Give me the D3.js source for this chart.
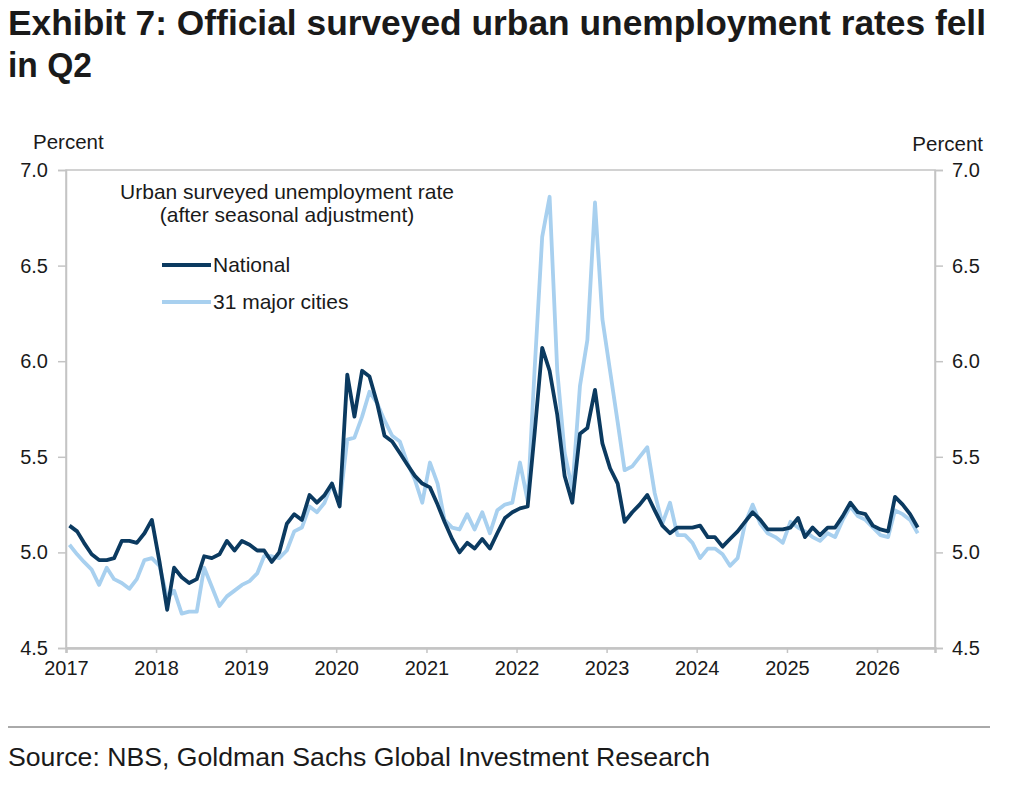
<!DOCTYPE html>
<html>
<head>
<meta charset="utf-8">
<script src="https://cdn.jsdelivr.net/npm/d3@7"></script>
<style>
  body { margin: 0; background: #fff; }
  text { font-family: "Liberation Sans", Arial, sans-serif; fill: #1a1a1a; }
</style>
</head>
<body>
<script>
// monthly data, Jan 2017 .. Jun 2026
var years = [2017, 2018, 2019, 2020, 2021, 2022, 2023, 2024, 2025, 2026];
var yTicks = [4.5, 5.0, 5.5, 6.0, 6.5, 7.0];

var national = [
  5.14, 5.11, 5.05, 4.99, 4.96, 4.96, 4.97, 5.06, 5.06, 5.05, 5.10, 5.17,
  4.95, 4.70, 4.92, 4.87, 4.84, 4.86, 4.98, 4.97, 4.99, 5.06, 5.01, 5.06,
  5.04, 5.01, 5.01, 4.95, 5.00, 5.15, 5.20, 5.17, 5.30, 5.26, 5.30, 5.36,
  5.24, 5.93, 5.71, 5.95, 5.92, 5.78, 5.61, 5.58, 5.52, 5.46, 5.40, 5.36,
  5.34, 5.25, 5.16, 5.07, 5.00, 5.05, 5.02, 5.07, 5.02, 5.10, 5.18, 5.21,
  5.23, 5.24, 5.62, 6.07, 5.95, 5.72, 5.40, 5.26, 5.62, 5.65, 5.85, 5.57,
  5.44, 5.36, 5.16, 5.21, 5.25, 5.30, 5.22, 5.14, 5.10, 5.13, 5.13, 5.13,
  5.14, 5.08, 5.08, 5.03, 5.07, 5.11, 5.16, 5.21, 5.17, 5.12, 5.12, 5.12,
  5.13, 5.18, 5.08, 5.13, 5.09, 5.13, 5.13, 5.19, 5.26, 5.21, 5.20, 5.14,
  5.12, 5.11, 5.29, 5.25, 5.20, 5.13
];

var cities = [
  5.04, 4.99, 4.95, 4.91, 4.83, 4.92, 4.86, 4.84, 4.81, 4.86, 4.96, 4.97,
  4.93, 4.76, 4.80, 4.68, 4.69, 4.69, 4.92, 4.82, 4.72, 4.77, 4.80, 4.83,
  4.85, 4.89, 4.98, 4.98, 4.97, 5.01, 5.11, 5.13, 5.24, 5.21, 5.26, 5.36,
  5.25, 5.59, 5.60, 5.71, 5.84, 5.78, 5.69, 5.61, 5.58, 5.47, 5.38, 5.26,
  5.47, 5.36, 5.17, 5.13, 5.12, 5.20, 5.12, 5.21, 5.10, 5.22, 5.25, 5.26,
  5.47, 5.27, 5.95, 6.65, 6.86, 5.95, 5.52, 5.33, 5.87, 6.11, 6.83, 6.22,
  5.95, 5.68, 5.43, 5.45, 5.50, 5.55, 5.31, 5.15, 5.26, 5.09, 5.09, 5.05,
  4.97, 5.02, 5.02, 4.99, 4.93, 4.97, 5.15, 5.25, 5.15, 5.10, 5.08, 5.05,
  5.16, 5.13, 5.11, 5.08, 5.06, 5.10, 5.08, 5.17, 5.24, 5.19, 5.17, 5.13,
  5.09, 5.08, 5.22, 5.20, 5.17, 5.10
];

var seriesNames = ["National", "31 major cities"];
var seriesColors = ["#0b3a60", "#a8d0ef"];

var svg = d3.select('body').append('svg')
  .attr('width', 1024)
  .attr('height', 792);

var plotLeft = 66, plotRight = 935, plotTop = 170, plotBottom = 648;

var x = d3.scaleTime()
  .domain([new Date(2017, 0, 1), new Date(2026, 7, 24)])
  .range([plotLeft, plotRight]);

var y = d3.scaleLinear()
  .domain([4.5, 7.0])
  .range([plotBottom, plotTop]);

var monthDate = function(i){ return new Date(2017, i, 15); };

// title
svg.append('text')
  .attr('x', 8).attr('y', 35)
  .attr('textLength', 978).attr('lengthAdjust', 'spacingAndGlyphs')
  .style('font-family', '"Liberation Sans Narrow", "Liberation Sans", sans-serif')
  .style('font-weight', 'bold').style('font-size', '35px')
  .text('Exhibit 7: Official surveyed urban unemployment rates fell');
svg.append('text')
  .attr('x', 8).attr('y', 77)
  .attr('textLength', 84).attr('lengthAdjust', 'spacingAndGlyphs')
  .style('font-family', '"Liberation Sans Narrow", "Liberation Sans", sans-serif')
  .style('font-weight', 'bold').style('font-size', '35px')
  .text('in Q2');

// plot frame
svg.append('rect')
  .attr('x', plotLeft).attr('y', plotTop)
  .attr('width', plotRight - plotLeft).attr('height', plotBottom - plotTop)
  .attr('fill', 'none').attr('stroke', '#c4c4c4').attr('stroke-width', 1.5);

// axes
var yAxisL = d3.axisLeft(y).tickValues(yTicks).tickFormat(d3.format('.1f')).tickSize(8).tickPadding(10);
var yAxisR = d3.axisRight(y).tickValues(yTicks).tickFormat(d3.format('.1f')).tickSize(8).tickPadding(9);
var xAxis = d3.axisBottom(x).tickValues(years.map(function(d){ return new Date(d, 0, 1); }))
  .tickFormat(d3.timeFormat('%Y')).tickSize(5).tickPadding(8);

var gl = svg.append('g').attr('transform', 'translate(' + plotLeft + ',0)').call(yAxisL);
var gr = svg.append('g').attr('transform', 'translate(' + plotRight + ',0)').call(yAxisR);
var gx = svg.append('g').attr('transform', 'translate(0,' + plotBottom + ')').call(xAxis);

[gl, gr, gx].forEach(function(g){
  g.select('.domain').attr('stroke', '#c4c4c4').attr('stroke-width', 1.5);
  g.selectAll('.tick line').attr('stroke', '#c4c4c4').attr('stroke-width', 1.5);
  g.selectAll('.tick text').style('font-size', '20px').style('font-family', '"Liberation Sans", Arial, sans-serif').attr('fill', '#1a1a1a');
});
gx.select('.domain').attr('stroke-width', 2.5);

svg.append('text').attr('x', 33).attr('y', 149).style('font-size', '20.5px').text('Percent');
svg.append('text').attr('x', 983).attr('y', 151).attr('text-anchor', 'end').style('font-size', '20.5px').text('Percent');

// lines
var line = d3.line()
  .x(function(d, i){ return x(monthDate(i)); })
  .y(function(d){ return y(d); });

svg.append('path').datum(cities)
  .attr('fill', 'none').attr('stroke', seriesColors[1]).attr('stroke-width', 3.8)
  .attr('stroke-linejoin', 'round').attr('d', line);
svg.append('path').datum(national)
  .attr('fill', 'none').attr('stroke', seriesColors[0]).attr('stroke-width', 3.8)
  .attr('stroke-linejoin', 'round').attr('d', line);

// legend
svg.append('text').attr('x', 287).attr('y', 199).attr('text-anchor', 'middle')
  .style('font-size', '21px').text('Urban surveyed unemployment rate');
svg.append('text').attr('x', 287).attr('y', 222).attr('text-anchor', 'middle')
  .style('font-size', '21px').text('(after seasonal adjustment)');

var legend = svg.selectAll('.legend').data(seriesNames).enter().append('g')
  .attr('transform', function(d, i){ return 'translate(162,' + (265 + i * 37) + ')'; });
legend.append('line')
  .attr('x1', 0).attr('x2', 49).attr('y1', 0).attr('y2', 0)
  .attr('stroke', function(d, i){ return seriesColors[i]; }).attr('stroke-width', 4);
legend.append('text').attr('x', 51).attr('y', 7).style('font-size', '21px').text(function(d){ return d; });

// footer
svg.append('line').attr('x1', 8).attr('x2', 990).attr('y1', 727).attr('y2', 727)
  .attr('stroke', '#555').attr('stroke-width', 1);
svg.append('text').attr('x', 8).attr('y', 766)
  .attr('textLength', 702).attr('lengthAdjust', 'spacingAndGlyphs')
  .style('font-family', '"Liberation Sans Narrow", "Liberation Sans", sans-serif')
  .style('font-size', '26px').attr('fill', '#333')
  .text('Source: NBS, Goldman Sachs Global Investment Research');
</script>
</body>
</html>
